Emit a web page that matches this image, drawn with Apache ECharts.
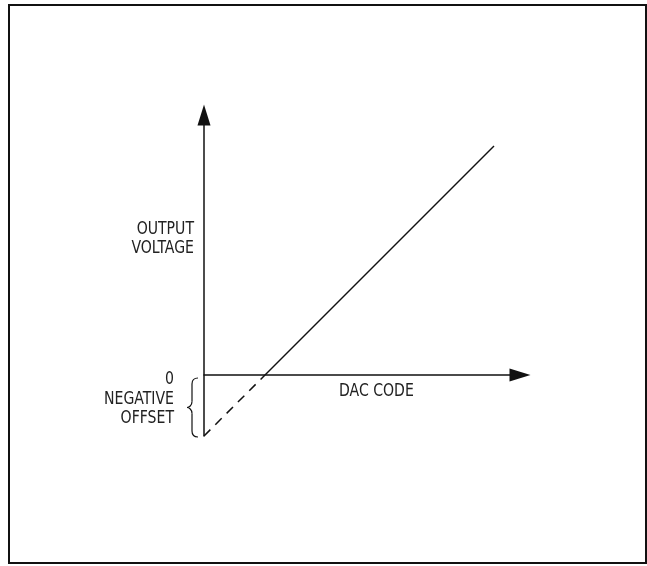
<!DOCTYPE html>
<html>
<head>
<meta charset="utf-8">
<script src="https://cdn.jsdelivr.net/npm/echarts@6/dist/echarts.min.js"></script>
<style>
  html, body { margin: 0; padding: 0; background: #fff; }
  #main { width: 647px; height: 566px; }
</style>
</head>
<body>
<div id="main"></div>
<script>
// schematic units: DAC code on x, output voltage on y (0 = zero volts)
const dacRange = [0, 316];
const voltRange = [-61, 260];
const offsetPart = [[0, -61], [61, 0]];     // below zero, dashed
const transferPart = [[61, 0], [290, 229]]; // solid transfer line

const FONT = "'Liberation Sans Narrow', 'DejaVu Sans Condensed', 'Roboto Condensed', sans-serif";
const INK = '#111';

const chart = echarts.init(document.getElementById('main'), null, { renderer: 'canvas' });

function label(text, x, y, align) {
  // squeezed a bit, the original uses a condensed face
  return {
    type: 'text', x: x, y: y, scaleX: 0.92, silent: true,
    style: { text: text, fill: '#222', font: '17px ' + FONT, align: align, verticalAlign: 'middle', lineHeight: 19 }
  };
}

function brace(x, y1, y2, tipX) {
  // "{" made of curves, tip pointing left
  const mid = (y1 + y2) / 2;
  const st = { stroke: INK, lineWidth: 1.2, fill: 'none' };
  return {
    type: 'group', silent: true,
    children: [
      { type: 'bezierCurve', shape: { x1: x + 6, y1: y1, cpx1: x + 2, cpy1: y1, cpx2: x, cpy2: y1 + 2, x2: x, y2: y1 + 6 }, style: st },
      { type: 'line', shape: { x1: x, y1: y1 + 6, x2: x, y2: mid - 6 }, style: st },
      { type: 'bezierCurve', shape: { x1: x, y1: mid - 6, cpx1: x, cpy1: mid - 2, cpx2: tipX + 2, cpy2: mid, x2: tipX, y2: mid }, style: st },
      { type: 'bezierCurve', shape: { x1: tipX, y1: mid, cpx1: tipX + 2, cpy1: mid, cpx2: x, cpy2: mid + 2, x2: x, y2: mid + 6 }, style: st },
      { type: 'line', shape: { x1: x, y1: mid + 6, x2: x, y2: y2 - 6 }, style: st },
      { type: 'bezierCurve', shape: { x1: x, y1: y2 - 6, cpx1: x, cpy1: y2 - 2, cpx2: x + 2, cpy2: y2, x2: x + 6, y2: y2 }, style: st }
    ]
  };
}

const axisArrow = {
  show: true,
  onZero: true,
  symbol: ['none', 'triangle'],
  symbolSize: [13, 21],
  lineStyle: { color: INK, width: 1.5 }
};

const option = {
  animation: false,
  backgroundColor: '#fff',
  grid: { left: 204, right: 127, top: 115, bottom: 130, containLabel: false },
  xAxis: {
    type: 'value', min: dacRange[0], max: dacRange[1],
    axisLine: axisArrow,
    axisTick: { show: false }, axisLabel: { show: false }, splitLine: { show: false }
  },
  yAxis: {
    type: 'value', min: voltRange[0], max: voltRange[1],
    axisLine: Object.assign({}, axisArrow, { onZero: false }),
    axisTick: { show: false }, axisLabel: { show: false }, splitLine: { show: false }
  },
  series: [
    {
      type: 'line', data: offsetPart, symbol: 'none',
      lineStyle: { color: INK, width: 1.5, type: [9, 7] }
    },
    {
      type: 'line', data: transferPart, symbol: 'none',
      lineStyle: { color: INK, width: 1.5 }
    }
  ],
  graphic: [
    { type: 'rect', silent: true, shape: { x: 9, y: 5, width: 637, height: 558 }, style: { fill: 'none', stroke: INK, lineWidth: 2 } },
    label('OUTPUT\nVOLTAGE', 194, 239, 'right'),
    label('0', 174, 380, 'right'),
    label('NEGATIVE\nOFFSET', 174, 409, 'right'),
    label('DAC CODE', 339, 392, 'left'),
    brace(192, 378, 437, 187)
  ]
};

chart.setOption(option);
</script>
</body>
</html>
